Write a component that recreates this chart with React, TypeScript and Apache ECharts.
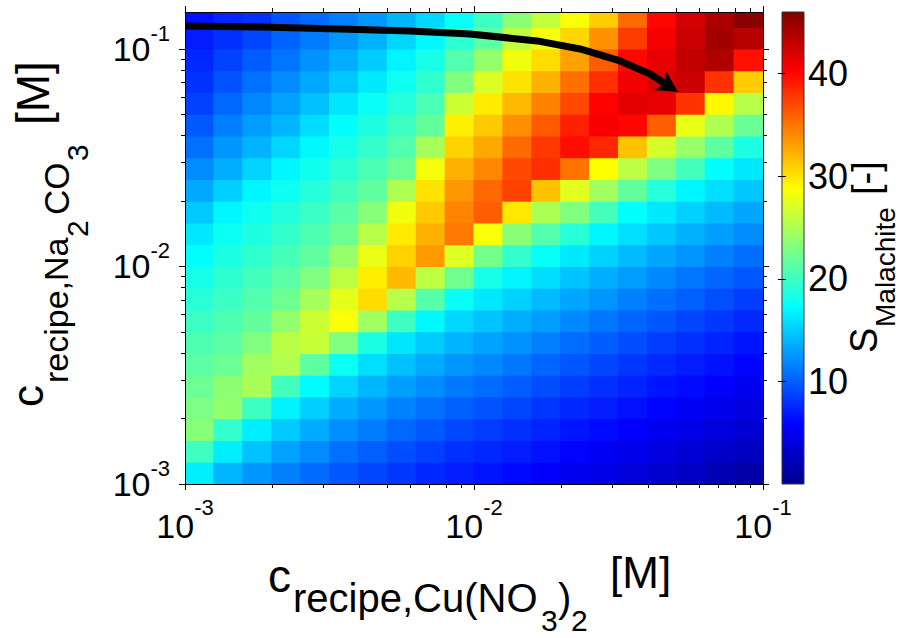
import React, { useEffect, useRef } from 'react';
import * as echarts from 'echarts';

// log10 of c(recipe, Cu(NO3)2) [M] at the centre of each grid column
const X_CENTERS = [-2.95, -2.85, -2.75, -2.65, -2.55, -2.45, -2.35, -2.25, -2.15, -2.05,
  -1.95, -1.85, -1.75, -1.65, -1.55, -1.45, -1.35, -1.25, -1.15, -1.05];
// log10 of c(recipe, Na2CO3) [M] at the centre of each grid row (bottom to top)
const Y_CENTERS = [-2.95, -2.85, -2.75, -2.65, -2.55, -2.45, -2.35, -2.25, -2.15, -2.05,
  -1.95, -1.85, -1.75, -1.65, -1.55, -1.45, -1.35, -1.25, -1.15, -1.05, -0.95, -0.85];
const CELL_HALF = 0.05;

// S_Malachite, one list per column (bottom row first)
const S_BY_COLUMN = [
  [16.5, 20, 23.3, 22.8, 22.1, 21.4, 20.7, 19.9, 19.1, 18.3, 17.3, 16.3, 14.8, 13.3, 12, 10.8, 9.7, 8.7, 8, 7.5, 7, 6.5],
  [14.0, 16.5, 19.5, 23.8, 23.6, 22.1, 21.4, 20.7, 19.9, 19.3, 18.5, 17.8, 16.9, 15.1, 13.6, 12.5, 11.4, 10.4, 9.5, 8.7, 7.9, 7.5],
  [12.5, 14.5, 16.5, 20, 24.9, 24.5, 23.0, 21.7, 20.9, 20.2, 19.4, 18.6, 17.9, 16.9, 15.3, 13.8, 12.8, 11.8, 10.8, 9.9, 8.9, 8],
  [11.5, 13.0, 14.8, 16.7, 20.3, 25.2, 25.6, 23.9, 22.2, 21.3, 20.4, 19.6, 18.8, 17.9, 16.9, 15.4, 14.0, 13.0, 12.0, 11.0, 10.3, 9.5],
  [10.6, 12.0, 13.4, 15.1, 17.1, 21.5, 26.2, 26.4, 24.7, 23.0, 21.6, 20.7, 19.8, 18.9, 18.0, 17.0, 15.7, 14.4, 13.3, 12.3, 11.3, 10.5],
  [9.6, 10.8, 12.2, 13.5, 15.3, 17.8, 23, 28.5, 27.6, 25.8, 24.0, 22.2, 21.2, 20.2, 19.2, 18.3, 17.3, 16.1, 14.7, 13.6, 12.5, 11.5],
  [8.9, 10.0, 11.3, 12.6, 14.0, 15.8, 18.5, 24.5, 30.3, 29.5, 27.8, 25.5, 23.3, 21.6, 20.6, 19.6, 18.6, 17.6, 16.3, 15.0, 13.7, 12.5],
  [8.2, 9.3, 10.4, 11.6, 12.9, 14.4, 16.1, 20, 25.5, 31.9, 30.8, 29.7, 28.1, 25.1, 22.1, 21.0, 20.0, 18.9, 17.9, 16.8, 15.4, 14],
  [7.5, 8.6, 9.7, 10.8, 12.1, 13.4, 14.9, 17.0, 21.1, 25.8, 33.3, 32.3, 31.2, 30.0, 28.3, 24.7, 21.7, 20.6, 19.4, 18.3, 17.0, 15.5],
  [7.0, 7.9, 9.0, 10.0, 11.2, 12.5, 13.8, 15.4, 17.6, 22.3, 27.2, 34.8, 34.3, 33.4, 32.3, 30.8, 29.4, 26.5, 23.1, 20.9, 19.2, 17.5],
  [6.6, 7.5, 8.4, 9.5, 10.6, 11.9, 13.1, 14.6, 16.2, 18.3, 22.5, 28.5, 36.0, 35.6, 34.2, 32.7, 31.2, 29.6, 27.1, 23.9, 21.4, 20],
  [6.1, 7.0, 7.85, 8.85, 9.95, 11.1, 12.3, 13.6, 15.2, 16.8, 19.5, 23.5, 29.8, 37.3, 37.0, 35.5, 33.8, 31.9, 30.0, 28.1, 25.8, 23.5],
  [5.6, 6.45, 7.3, 8.15, 9.25, 10.35, 11.5, 12.8, 14.15, 15.7, 17.6, 21, 25, 31.5, 38.2, 37.8, 36.2, 34.4, 32.3, 30.3, 28.2, 26],
  [5.0, 5.85, 6.7, 7.5, 8.5, 9.6, 10.65, 11.9, 13.2, 14.6, 16.3, 19.0, 23.1, 27.4, 35, 39.6, 38.8, 37.0, 35.2, 33.0, 30.6, 28.5],
  [4.45, 5.3, 6.2, 7.0, 7.85, 8.9, 9.95, 11.05, 12.4, 13.6, 15.2, 16.9, 20.3, 24.5, 28.7, 38.5, 40.5, 40.2, 38.2, 36.1, 33.7, 31],
  [3.9, 4.75, 5.6, 6.45, 7.3, 8.2, 9.25, 10.35, 11.5, 12.8, 14.15, 15.8, 17.4, 21.7, 25.7, 31.5, 40, 41.5, 40.8, 40.0, 37.6, 35.5],
  [3.3, 4.2, 5.05, 5.85, 6.7, 7.55, 8.5, 9.6, 10.7, 11.9, 13.2, 14.7, 16.3, 18.9, 22.9, 26.8, 36, 41.3, 41.9, 41.3, 40.6, 40],
  [2.8, 3.6, 4.5, 5.3, 6.2, 7.0, 7.85, 8.9, 10.0, 11.05, 12.4, 13.7, 15.2, 16.9, 20.2, 24.1, 27.8, 38, 42.5, 43, 42.6, 42.3],
  [1.9, 3.1, 3.95, 4.75, 5.6, 6.5, 7.3, 8.2, 9.3, 10.35, 11.5, 12.85, 14.15, 15.8, 17.4, 21.5, 25.1, 29, 38, 43.8, 44.4, 44],
  [1.2, 2.5, 3.35, 4.2, 5.05, 5.9, 6.7, 7.55, 8.5, 9.6, 10.7, 12.0, 13.2, 14.7, 16.3, 18.5, 22, 25.5, 31, 39.5, 43.5, 45.5],
];

// Arrow annotation, in log10 units of the two axes
const ARROW_LOG_X = [-3.0, -2.74, -2.464, -2.221, -2.014, -1.782, -1.633, -1.495, -1.391, -1.294];
const ARROW_LOG_Y = [-0.894, -0.899, -0.908, -0.917, -0.931, -0.963, -1.0, -1.055, -1.115, -1.198];

// Axis ticks (log10 units)
const X_MIN = -3, X_MAX = -1;
const Y_MIN = -3, Y_MAX = -0.83;
const MAJOR_X = [-3, -2, -1];
const MAJOR_Y = [-3, -2, -1];
const MINOR_MULT = [2, 3, 4, 5, 6, 7, 8, 9];
const MINOR_DECADES = [-3, -2];
const MINOR_TICKS = MINOR_DECADES.flatMap((d) => MINOR_MULT.map((k) => d + Math.log10(k)));
const CBAR_MIN = 0, CBAR_MAX = 46;
const CBAR_TICKS = [10, 20, 30, 40];

const JET = ['#00008f', '#0000ff', '#0080ff', '#00ffff', '#80ff80', '#ffff00', '#ff8000', '#ff0000', '#800000'];
const FONT = '"Liberation Sans", Arial, Helvetica, sans-serif';

export default function App() {
  const ref = useRef<HTMLDivElement>(null);

  useEffect(() => {
    const chart = echarts.init(ref.current as HTMLDivElement, null, { renderer: 'svg' });

    const heatData: number[][] = [];
    X_CENTERS.forEach((x, i) => {
      Y_CENTERS.forEach((y, j) => {
        heatData.push([x, y, S_BY_COLUMN[i][j]]);
      });
    });

    const lineStyle = { color: '#000', width: 1 };
    const hidden = {
      splitLine: { show: false },
      axisLine: { show: false },
      axisLabel: { show: false },
      axisTick: { show: false },
    };
    const supRich = (h: number) => ({
      b: { fontSize: 34, fontFamily: FONT, color: '#000', lineHeight: h, verticalAlign: 'middle' },
      s: { fontSize: 22, fontFamily: FONT, color: '#000', lineHeight: 22, verticalAlign: 'top' },
    });

    const xAxes = [
      {
        ...hidden, type: 'value', gridIndex: 0, min: X_MIN, max: X_MAX, interval: 1, position: 'bottom', z: 5,
        axisLine: { show: true, onZero: false, lineStyle },
        axisTick: { show: true, inside: false, length: 6, customValues: MAJOR_X, lineStyle },
        axisLabel: {
          show: true, customValues: MAJOR_X, margin: 12,
          formatter: (v: number) => `{b|10}{s|${Math.round(v)}}`,
          rich: supRich(59),
        },
      },
      {
        ...hidden, type: 'value', gridIndex: 0, min: X_MIN, max: X_MAX, position: 'bottom', z: 5,
        axisTick: { show: true, inside: false, length: 4, customValues: MINOR_TICKS, lineStyle },
      },
      {
        ...hidden, type: 'value', gridIndex: 0, min: X_MIN, max: X_MAX, interval: 1, position: 'top', z: 5,
        axisLine: { show: true, onZero: false, lineStyle },
        axisTick: { show: true, inside: false, length: 6, customValues: MAJOR_X, lineStyle },
      },
      {
        ...hidden, type: 'value', gridIndex: 0, min: X_MIN, max: X_MAX, position: 'top', z: 5,
        axisTick: { show: true, inside: false, length: 4, customValues: MINOR_TICKS, lineStyle },
      },
      { ...hidden, show: false, type: 'value', gridIndex: 1, min: 0, max: 1 },
    ];

    const yAxes = [
      {
        ...hidden, type: 'value', gridIndex: 0, min: Y_MIN, max: Y_MAX, interval: 1, position: 'left', z: 5,
        axisLine: { show: true, onZero: false, lineStyle },
        axisTick: { show: true, inside: false, length: 6, customValues: MAJOR_Y, lineStyle },
        axisLabel: {
          show: true, customValues: MAJOR_Y, margin: 15,
          formatter: (v: number) => `{b|10}{s|${Math.round(v)}}`,
          rich: supRich(53),
        },
      },
      {
        ...hidden, type: 'value', gridIndex: 0, min: Y_MIN, max: Y_MAX, position: 'left', z: 5,
        axisTick: { show: true, inside: false, length: 4, customValues: MINOR_TICKS, lineStyle },
      },
      {
        ...hidden, type: 'value', gridIndex: 0, min: Y_MIN, max: Y_MAX, interval: 1, position: 'right', z: 5,
        axisLine: { show: true, onZero: false, lineStyle },
        axisTick: { show: true, inside: false, length: 6, customValues: MAJOR_Y, lineStyle },
      },
      {
        ...hidden, type: 'value', gridIndex: 0, min: Y_MIN, max: Y_MAX, position: 'right', z: 5,
        axisTick: { show: true, inside: false, length: 4, customValues: MINOR_TICKS, lineStyle },
      },
      {
        ...hidden, type: 'value', gridIndex: 1, min: CBAR_MIN, max: CBAR_MAX, position: 'right', z: 10,
        axisTick: { show: true, inside: true, length: 4, customValues: CBAR_TICKS, lineStyle },
        axisLabel: { show: true, customValues: CBAR_TICKS, margin: 4, fontSize: 36, fontFamily: FONT, color: '#000' },
      },
      {
        ...hidden, type: 'value', gridIndex: 1, min: CBAR_MIN, max: CBAR_MAX, position: 'left', z: 10,
        axisTick: { show: true, inside: true, length: 4, customValues: CBAR_TICKS, lineStyle },
      },
    ];

    const txt = (text: string, x: number, y: number, fontSize: number) => ({
      type: 'text', x, y, silent: true,
      style: { text, fontSize, fontFamily: FONT, fill: '#000', align: 'left', verticalAlign: 'middle' },
    });

    const jetGradient = new echarts.graphic.LinearGradient(
      0, 1, 0, 0,
      JET.map((color, i) => ({ offset: i / (JET.length - 1), color }))
    );

    const option = {
      animation: false,
      backgroundColor: '#fff',
      grid: [
        { left: 185, top: 12, width: 578, height: 472, show: false },
        { left: 782, top: 12, width: 22, height: 472, show: false },
      ],
      xAxis: xAxes,
      yAxis: yAxes,
      visualMap: {
        type: 'continuous', min: CBAR_MIN, max: CBAR_MAX, seriesIndex: 0, dimension: 2,
        show: false,
        inRange: { color: JET },
      },
      graphic: [
        // x-axis title
        txt('c', 268, 576, 46),
        txt('recipe,Cu(NO', 293, 598, 40),
        txt('3', 541, 620, 30),
        txt(')', 558, 598, 40),
        txt('2', 571, 620, 30),
        txt('[M]', 610, 572, 44),
        // y-axis title (rotated)
        {
          type: 'group', x: 0, y: 407, rotation: Math.PI / 2,
          children: [
            txt('c', 0, 27, 44),
            txt('recipe,Na', 24, 56, 34),
            txt('2', 170, 77, 30),
            txt('CO', 192, 56, 35),
            txt('3', 246, 77, 30),
            txt('[M]', 282, 33, 46),
          ],
        },
        // colour bar title (rotated)
        {
          type: 'group', x: 0, y: 355, rotation: Math.PI / 2,
          children: [
            txt('S', 2, 864, 38),
            txt('Malachite', 28, 885, 28),
            txt('[-]', 160, 866, 38),
          ],
        },
      ],
      series: [
        {
          type: 'custom',
          xAxisIndex: 0,
          yAxisIndex: 0,
          silent: true,
          z: 2,
          data: heatData,
          renderItem: (params: any, api: any) => {
            const x = api.value(0);
            const y = api.value(1);
            const p0 = api.coord([x - CELL_HALF, y + CELL_HALF]);
            const p1 = api.coord([x + CELL_HALF, y - CELL_HALF]);
            const cs = params.coordSys;
            const shape = echarts.graphic.clipRectByRect(
              { x: p0[0] - 0.5, y: p0[1] - 0.5, width: p1[0] - p0[0] + 1, height: p1[1] - p0[1] + 1 },
              { x: cs.x, y: cs.y, width: cs.width, height: cs.height }
            );
            if (!shape) return null;
            return { type: 'rect', shape, style: { fill: api.visual('color') } };
          },
        },
        {
          type: 'custom',
          xAxisIndex: 0,
          yAxisIndex: 0,
          silent: true,
          z: 4,
          data: [[ARROW_LOG_X[0], ARROW_LOG_Y[0]]],
          renderItem: (_params: any, api: any) => {
            const pts = ARROW_LOG_X.map((x, i) => api.coord([x, ARROW_LOG_Y[i]]));
            const tip = pts[pts.length - 1];
            const prev = pts[pts.length - 2];
            const dx = tip[0] - prev[0];
            const dy = tip[1] - prev[1];
            const len = Math.hypot(dx, dy);
            const ux = dx / len, uy = dy / len;
            const headLen = 21, headHalf = 11;
            const base = [tip[0] - ux * headLen, tip[1] - uy * headLen];
            const notch = [tip[0] - ux * headLen * 0.75, tip[1] - uy * headLen * 0.75];
            const left = [base[0] - uy * headHalf, base[1] + ux * headHalf];
            const right = [base[0] + uy * headHalf, base[1] - ux * headHalf];
            return {
              type: 'group',
              children: [
                {
                  type: 'polyline',
                  shape: { points: pts.slice(0, -1).concat([notch]) },
                  style: { stroke: '#000', lineWidth: 7, fill: null, lineJoin: 'round', lineCap: 'butt' },
                },
                {
                  type: 'polygon',
                  shape: { points: [tip, left, notch, right] },
                  style: { fill: '#000' },
                },
              ],
            };
          },
        },
        {
          // colour bar drawn in its own grid, spanning CBAR_MIN..CBAR_MAX
          type: 'custom',
          xAxisIndex: 4,
          yAxisIndex: 4,
          silent: true,
          z: 2,
          data: [[0, CBAR_MIN]],
          renderItem: (_params: any, api: any) => {
            const p0 = api.coord([0, CBAR_MAX]);
            const p1 = api.coord([1, CBAR_MIN]);
            return {
              type: 'rect',
              shape: { x: p0[0], y: p0[1], width: p1[0] - p0[0], height: p1[1] - p0[1] },
              style: { fill: jetGradient, stroke: '#333', lineWidth: 1 },
            };
          },
        },
      ],
    };

    chart.setOption(option as any);
    return () => chart.dispose();
  }, []);

  return (
    <div
      ref={ref}
      style={{ position: 'fixed', left: 0, top: 0, width: 905, height: 638, background: '#fff' }}
    />
  );
}
